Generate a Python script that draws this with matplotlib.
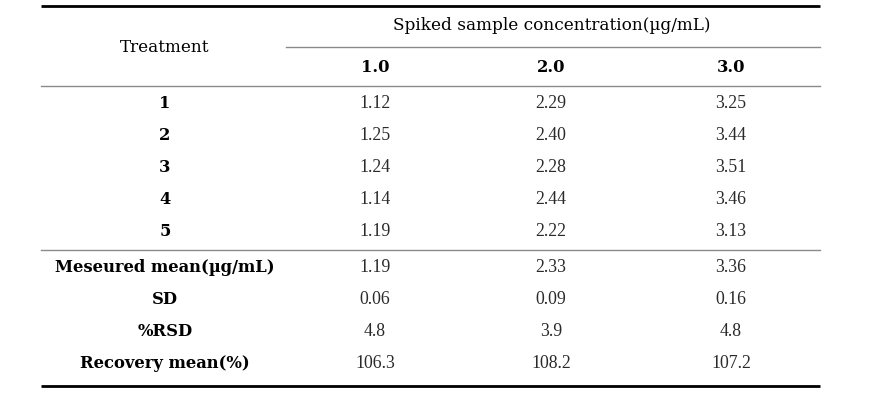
import matplotlib
matplotlib.use("Agg")
import matplotlib.pyplot as plt

row_labels = ["1", "2", "3", "4", "5"]
summary_labels = ["Meseured mean(\u00b5g/mL)", "SD", "%RSD", "Recovery mean(%)"]
conc_labels = ["1.0", "2.0", "3.0"]
group_title = "Spiked sample concentration(\u00b5g/mL)"
first_header = "Treatment"
values = [
    ["1.12", "2.29", "3.25"],
    ["1.25", "2.40", "3.44"],
    ["1.24", "2.28", "3.51"],
    ["1.14", "2.44", "3.46"],
    ["1.19", "2.22", "3.13"],
]
summary = [
    ["1.19", "2.33", "3.36"],
    ["0.06", "0.09", "0.16"],
    ["4.8", "3.9", "4.8"],
    ["106.3", "108.2", "107.2"],
]

W, H = 876, 407
fig = plt.figure(figsize=(W / 100, H / 100), dpi=100)
ax = fig.add_axes([0, 0, 1, 1])
ax.set_xlim(0, W)
ax.set_ylim(H, 0)
ax.axis("off")

lab_font = "DejaVu Serif"
num_font = "Liberation Serif"
fs_lab = 11.8
fs_head = 12.2
fs_num = 12.8
x_left, x_right = 41, 820
x_lab = 165
x_cols = [375, 551, 731]

# lines
ax.plot([x_left, x_right], [6, 6], color="black", lw=2.0, solid_capstyle="butt")
ax.plot([286, x_right], [47, 47], color="#8a8a8a", lw=1.0)
ax.plot([x_left, x_right], [86, 86], color="#8a8a8a", lw=1.0)
ax.plot([x_left, x_right], [250, 250], color="#8a8a8a", lw=1.0)
ax.plot([x_left, x_right], [386, 386], color="black", lw=2.0, solid_capstyle="butt")

# header
ax.text(x_lab, 48, first_header, ha="center", va="center", fontsize=fs_head, family=lab_font)
ax.text(552, 26, group_title, ha="center", va="center", fontsize=fs_head, family=lab_font)
for x, c in zip(x_cols, conc_labels):
    ax.text(x, 68, c, ha="center", va="center", fontsize=fs_lab, family=lab_font, weight="bold")

row_y = [104, 136, 168, 200, 232]
for y, lab, vals in zip(row_y, row_labels, values):
    ax.text(x_lab, y, lab, ha="center", va="center", fontsize=fs_lab, family=lab_font, weight="bold")
    for x, v in zip(x_cols, vals):
        ax.text(x, y, v, ha="center", va="center", fontsize=fs_num, family=num_font, color="#2a2a2a")

sum_y = [268, 300, 332, 364]
for y, lab, vals in zip(sum_y, summary_labels, summary):
    ax.text(x_lab, y, lab, ha="center", va="center", fontsize=fs_lab, family=lab_font, weight="bold")
    for x, v in zip(x_cols, vals):
        ax.text(x, y, v, ha="center", va="center", fontsize=fs_num, family=num_font, color="#2a2a2a")

fig.savefig("out.png", dpi=100, facecolor="white")
